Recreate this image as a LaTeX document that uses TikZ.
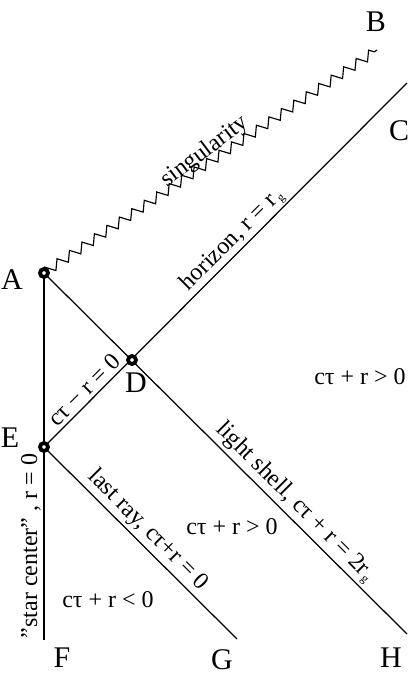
\documentclass[tikz,border=0pt]{standalone}
\usepackage{fontspec}
\setmainfont{Liberation Serif}
\usetikzlibrary{decorations.pathmorphing}
\newcommand{\gsub}{\kern1.5pt{\fontsize{12}{12}\selectfont\raisebox{-3pt}{g}}}
\tikzset{
  wl/.style={line width=1.25pt},
  zz/.style={line width=1.15pt, decorate, decoration={zigzag, segment length=15pt, amplitude=4.6pt}},
  evt/.style={circle, draw=black, fill=white, line width=3.8pt, minimum size=8pt, inner sep=0pt},
  ptlabel/.style={font=\fontsize{30}{30}\selectfont, inner sep=0pt},
  txt/.style={font=\fontsize{24}{24}\selectfont, inner sep=0pt},
}
\begin{document}
\begin{tikzpicture}[x=1pt,y=-1pt]
\useasboundingbox (0,0) rectangle (415,680);
% event points
\coordinate (A) at (44,273);
\coordinate (D) at (132,360);
\coordinate (E) at (44,447);
\coordinate (Bend) at (377,50);
\coordinate (Cend) at (407,83);
\coordinate (Fend) at (44,640);
\coordinate (Gend) at (237,639);
\coordinate (Hend) at (407,634);
% lines
\draw[wl] (A) -- (Fend);
\draw[wl] (A) -- (Hend);
\draw[wl] (E) -- (Cend);
\draw[wl] (E) -- (Gend);
\draw[zz] (A) -- (Bend);
% circles
\node[evt] (cA) at (A) {};
\node[evt] (cD) at (D) {};
\node[evt] (cE) at (E) {};
% point labels
\node[ptlabel] (lA) at (12,280) {A};
\node[ptlabel] (lB) at (376,22) {B};
\node[ptlabel] (lC) at (399,131) {C};
\node[ptlabel] (lD) at (136,383) {D};
\node[ptlabel] (lE) at (10,438) {E};
\node[ptlabel] (lF) at (62,658) {F};
\node[ptlabel] (lG) at (222,660) {G};
\node[ptlabel] (lH) at (391,658) {H};
% line labels
\node[txt, rotate=37] (tsing) at (205,152) {singularity};
\node[txt, rotate=45] (thor) at (232,240) {horizon, r = r\gsub};
\node[txt, rotate=45] (tcr) at (84,390) {cτ − r = 0};
\node[txt, rotate=-45] (tlight) at (295,502) {light shell, cτ + r = 2r\gsub};
\node[txt, rotate=-45] (tlast) at (148,530) {last ray, cτ+r = 0};
\node[txt, rotate=90] (tstar) at (31,546) {\symbol{34}star center\symbol{34} , r = 0};
% region labels
\node[txt] (r1) at (360,377) {cτ + r > 0};
\node[txt] (r2) at (232,527) {cτ + r > 0};
\node[txt] (r3) at (108,600) {cτ + r < 0};
\end{tikzpicture}
\end{document}
